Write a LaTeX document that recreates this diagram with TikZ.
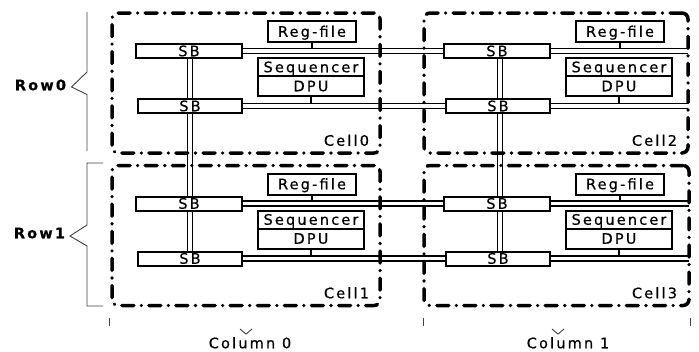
\documentclass[tikz,border=0pt]{standalone}
\usepackage{fontspec}
\setmainfont{DejaVu Sans}[LetterSpace=15, FakeBold=0.6]
\pgfdeclarelayer{bg}
\pgfsetlayers{bg,main}
\begin{document}
\begin{tikzpicture}[x=1pt,y=-1pt,
  lbl/.style={inner sep=0pt, outer sep=0pt, font=\fontsize{14.5}{17}\selectfont, text height=10.5pt, text depth=0pt},
  blk/.style={lbl, draw, line width=2pt},
  sbbox/.style={blk, minimum width=106pt, minimum height=14pt},
  regbox/.style={blk, minimum width=88pt, minimum height=21pt},
  seqbox/.style={blk, minimum width=106pt, minimum height=18pt},
  dpubox/.style={blk, minimum width=106pt, minimum height=20pt},
  cellbox/.style={draw, line width=3.5pt, line cap=round, dash pattern=on 12pt off 7.5pt on 0.1pt off 7.5pt, rounded corners=6pt, inner sep=0pt, outer sep=0pt},
  bus/.style={draw, double=white, line width=1.6pt, double distance=3.6pt},
  stub/.style={draw, line width=1.5pt},
  brace/.style={draw, line width=0.9pt, black!75},
  rowlbl/.style={lbl, font=\fontsize{14.5}{17}\selectfont\bfseries}
]
\useasboundingbox (0,0) rectangle (699,351);

% cells
\node[cellbox, minimum width=268pt, minimum height=140pt] (cell0) at (246,83) {};
\node[cellbox, minimum width=268pt, minimum height=140pt] (cell1) at (246,235.5) {};
\node[cellbox, minimum width=264pt, minimum height=140pt] (cell2) at (556,83) {};
\node[cellbox, minimum width=265pt, minimum height=140pt] (cell3) at (556.5,235.5) {};

% cell contents
\foreach \c/\dx/\dy in {0/0/0,1/0/152.5,2/308/0,3/308/152.5}{
  \begin{scope}[shift={(\dx,\dy)}]
    \node[sbbox] (sbA\c) at (189,51) {SB};
    \node[sbbox, minimum width=104pt] (sbB\c) at (190,106) {SB};
    \node[regbox] (reg\c) at (312,31.5) {Reg-file};
    \node[seqbox] (seq\c) at (311,67) {Sequencer};
    \node[dpubox, anchor=north] (dpu\c) at (seq\c.south) {DPU};
    \node[lbl, anchor=east] (lab\c) at (369,140.5) {Cell\c};
  \end{scope}
}

\coordinate (v0) at (190,0);
\coordinate (v1) at (500,0);

\begin{pgfonlayer}{bg}
  % stubs
  \foreach \c in {0,1,2,3}{
    \draw[stub] (reg\c.south) -- (reg\c.south |- sbA\c.east);
    \draw[stub] (dpu\c.south) -- (dpu\c.south |- sbB\c.east);
  }
  % vertical buses
  \draw[bus] (sbA0.south -| v0) -- (sbB0.north -| v0);
  \draw[bus] (sbB0.south -| v0) -- (sbA1.north -| v0);
  \draw[bus] (sbA1.south -| v0) -- (sbB1.north -| v0);
  \draw[bus] (sbA2.south -| v1) -- (sbB2.north -| v1);
  \draw[bus] (sbB2.south -| v1) -- (sbA3.north -| v1);
  \draw[bus] (sbA3.south -| v1) -- (sbB3.north -| v1);
  % horizontal buses
  \draw[bus] (sbA0.east) -- (sbA2.west);
  \draw[bus] (sbB0.east) -- (sbB2.west);
  \draw[bus] (sbA1.east) -- (sbA3.west);
  \draw[bus] (sbB1.east) -- (sbB3.west);
  \draw[bus] (sbA2.east) -- (sbA2.east -| cell2.east);
  \draw[bus] (sbB2.east) -- (sbB2.east -| cell2.east);
  \draw[bus] (sbA3.east) -- (sbA3.east -| cell3.east);
  \draw[bus] (sbB3.east) -- (sbB3.east -| cell3.east);
\end{pgfonlayer}

% row labels and braces
\node[rowlbl, anchor=east] (row0) at (66,85) {Row0};
\node[rowlbl, anchor=east] (row1) at (65,233) {Row1};
\draw[brace] (87,12) -- (87,72) -- (71.5,87) -- (87,94.5) -- (87,151);
\draw[brace] (103,163) -- (87,163) -- (87,225) -- (70,236) -- (87,246) -- (87,306) -- (103,306);

% column marks and labels
\draw[brace] (109,318) -- (109,326);
\draw[brace] (423,318) -- (423,326);
\draw[brace] (690,318) -- (690,326);
\draw[brace] (240,329) -- (246,334) -- (252,329);
\draw[brace] (552,329) -- (558,334) -- (564,329);
\node[lbl] (col0) at (250,343) {Column 0};
\node[lbl] (col1) at (568,343) {Column 1};
\end{tikzpicture}
\end{document}
